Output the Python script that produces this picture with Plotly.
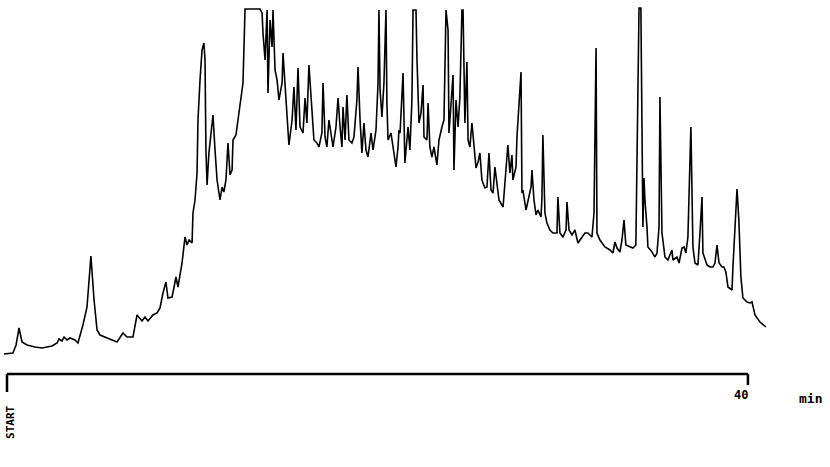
import plotly.graph_objects as go

# Retention time (min) and detector response (arbitrary units)
time_min = [
    -0.16, 0.32, 0.49, 0.65, 0.81, 1.08, 1.51, 1.89, 2.43, 2.70, 2.81, 2.97, 3.08, 3.24, 3.40, 3.67, 3.83,
    4.10, 4.32, 4.53, 4.70, 4.86, 5.02, 5.56, 5.94, 6.26, 6.48, 6.80, 7.02, 7.29, 7.45, 7.61, 7.88, 8.10,
    8.26, 8.42, 8.58, 8.69, 8.91, 9.02, 9.12, 9.23, 9.45, 9.61, 9.72, 9.83, 9.99, 10.04, 10.15, 10.26,
    10.31, 10.42, 10.53, 10.63, 10.69, 10.74, 10.80, 10.90, 11.12, 11.23, 11.34, 11.50, 11.61, 11.71,
    11.82, 11.93, 12.04, 12.15, 12.20, 12.36, 12.47, 12.63, 12.74, 12.85, 13.66, 13.77, 13.82, 13.93,
    14.04, 14.09, 14.20, 14.31, 14.36, 14.47, 14.58, 14.68, 14.85, 14.90, 15.01, 15.12, 15.22, 15.39,
    15.49, 15.60, 15.71, 15.82, 15.98, 16.09, 16.19, 16.30, 16.46, 16.57, 16.73, 16.84, 17.00, 17.06,
    17.17, 17.27, 17.38, 17.54, 17.60, 17.76, 17.87, 17.98, 18.08, 18.14, 18.25, 18.35, 18.46, 18.62,
    18.73, 18.89, 18.95, 19.06, 19.16, 19.27, 19.38, 19.49, 19.65, 19.76, 19.92, 20.03, 20.08, 20.14,
    20.24, 20.35, 20.46, 20.51, 20.57, 20.73, 20.84, 21.00, 21.11, 21.16, 21.22, 21.38, 21.48, 21.59,
    21.65, 21.75, 21.86, 21.92, 22.08, 22.13, 22.24, 22.35, 22.46, 22.51, 22.67, 22.73, 22.83, 22.94,
    23.05, 23.21, 23.32, 23.48, 23.59, 23.70, 23.81, 23.86, 24.02, 24.08, 24.13, 24.24, 24.35, 24.45,
    24.56, 24.62, 24.72, 24.83, 24.89, 24.99, 25.10, 25.21, 25.32, 25.43, 25.53, 25.64, 25.80, 25.91,
    26.02, 26.13, 26.24, 26.34, 26.45, 26.56, 26.78, 26.83, 26.94, 27.04, 27.15, 27.26, 27.31, 27.48,
    27.53, 27.64, 27.75, 27.80, 27.85, 28.02, 28.12, 28.29, 28.34, 28.45, 28.56, 28.66, 28.83, 28.88,
    28.93, 29.04, 29.15, 29.31, 29.47, 29.69, 29.74, 29.85, 30.01, 30.18, 30.23, 30.34, 30.50, 30.66,
    30.82, 31.04, 31.20, 31.36, 31.58, 31.69, 31.80, 31.85, 32.01, 32.28, 32.55, 32.71, 32.82, 32.93,
    33.09, 33.20, 33.31, 33.41, 33.63, 33.79, 33.95, 34.01, 34.06, 34.12, 34.22, 34.28, 34.33, 34.39,
    34.44, 34.55, 34.60, 34.82, 34.98, 35.09, 35.20, 35.25, 35.36, 35.52, 35.68, 35.90, 35.95, 36.17,
    36.28, 36.44, 36.55, 36.65, 36.76, 36.92, 37.03, 37.14, 37.30, 37.41, 37.52, 37.57, 37.79, 37.95,
    38.11, 38.22, 38.33, 38.44, 38.60, 38.70, 38.81, 38.92, 39.14, 39.19, 39.30, 39.41, 39.51, 39.62,
    39.73, 39.95, 40.11, 40.22, 40.38, 40.65, 40.97,
]

response = [
    2, 3, 11, 28, 14, 11, 9, 8, 10, 13, 17, 15, 19, 16, 18, 16, 13,
    31, 49, 100, 56, 26, 21, 17, 14, 23, 19, 19, 41, 35, 39, 35, 41, 43,
    48, 63, 74, 58, 59, 69, 79, 69, 93, 119, 111, 116, 113, 143, 156, 183,
    236, 276, 306, 313, 296, 206, 171, 203, 241, 206, 176, 156, 169, 164,
    176, 213, 181, 186, 216, 221, 236, 253, 273, 347, 347, 343, 323, 296,
    346, 263, 336, 309, 346, 286, 276, 256, 273, 303, 273, 236, 211, 236,
    269, 226, 288, 229, 223, 258, 233, 291, 246, 216, 213, 209, 223, 273,
    219, 209, 236, 216, 209, 229, 258, 229, 209, 249, 216, 261, 216, 213,
    219, 256, 289, 236, 203, 233, 206, 199, 223, 206, 226, 273, 346, 266,
    239, 273, 346, 253, 216, 223, 209, 189, 209, 226, 223, 283, 193, 216,
    229, 206, 256, 346, 346, 299, 233, 243, 271, 219, 216, 253, 209, 199,
    209, 191, 216, 229, 236, 346, 326, 223, 263, 281, 186, 256, 229, 259,
    346, 346, 233, 294, 216, 209, 233, 209, 188, 194, 203, 176, 168, 169,
    203, 166, 163, 189, 169, 156, 149, 163, 193, 211, 183, 201, 176, 189,
    219, 256, 284, 163, 166, 146, 156, 169, 186, 156, 141, 146, 139, 159,
    221, 143, 133, 126, 123, 123, 159, 123, 119, 126, 154, 126, 121, 126,
    113, 119, 123, 123, 119, 143, 308, 123, 116, 109, 106, 103, 114, 108,
    104, 116, 136, 111, 109, 108, 111, 206, 253, 348, 348, 163, 129, 178,
    156, 129, 109, 104, 99, 103, 129, 259, 123, 99, 96, 106, 96, 99,
    93, 108, 109, 103, 119, 229, 109, 93, 91, 123, 159, 103, 91, 89,
    89, 93, 111, 93, 89, 89, 84, 69, 66, 89, 123, 167, 136, 79,
    58, 54, 53, 54, 41, 34, 29,
]

# Time scale bar
scale_start = 0
scale_end = 40
scale_label = "40"
unit_label = "min"
start_label = "START"

fig = go.Figure()
fig.add_trace(go.Scatter(
    x=time_min, y=response, mode="lines",
    line=dict(color="black", width=1.6, shape="linear"),
    hoverinfo="skip", showlegend=False,
))

mono = "DejaVu Sans Mono"
bar_y = -18
fig.add_shape(type="line", xref="x", yref="y", x0=scale_start, x1=scale_end, y0=bar_y, y1=bar_y,
              line=dict(color="black", width=2.5))
fig.add_shape(type="line", xref="x", yref="y", x0=scale_start, x1=scale_start, y0=bar_y, y1=-36,
              line=dict(color="black", width=2.5))
fig.add_shape(type="line", xref="x", yref="y", x0=scale_end, x1=scale_end, y0=bar_y, y1=-29,
              line=dict(color="black", width=2.5))

fig.add_annotation(x=39.6, y=-39, xref="x", yref="y", text=f"<b>{scale_label}</b>", showarrow=False,
                   font=dict(family=mono, size=12, color="black"))
fig.add_annotation(x=43.4, y=-42, xref="x", yref="y", text=f"<b>{unit_label}</b>", showarrow=False,
                   font=dict(family=mono, size=13, color="black"))
fig.add_annotation(x=0.16, y=-66, xref="x", yref="y", text=f"<b>{start_label}</b>", showarrow=False,
                   textangle=-90, font=dict(family=mono, size=11, color="black"))

fig.update_layout(
    width=830, height=467,
    margin=dict(l=0, r=0, t=0, b=0),
    paper_bgcolor="white", plot_bgcolor="white",
    xaxis=dict(range=[-0.378, 44.43], visible=False, fixedrange=True),
    yaxis=dict(range=[-111, 356], visible=False, fixedrange=True),
)

fig.write_html(
    "out.html",
    config={"displayModeBar": False},
    post_script="document.body.style.margin='0px';document.body.style.overflow='hidden';",
)
